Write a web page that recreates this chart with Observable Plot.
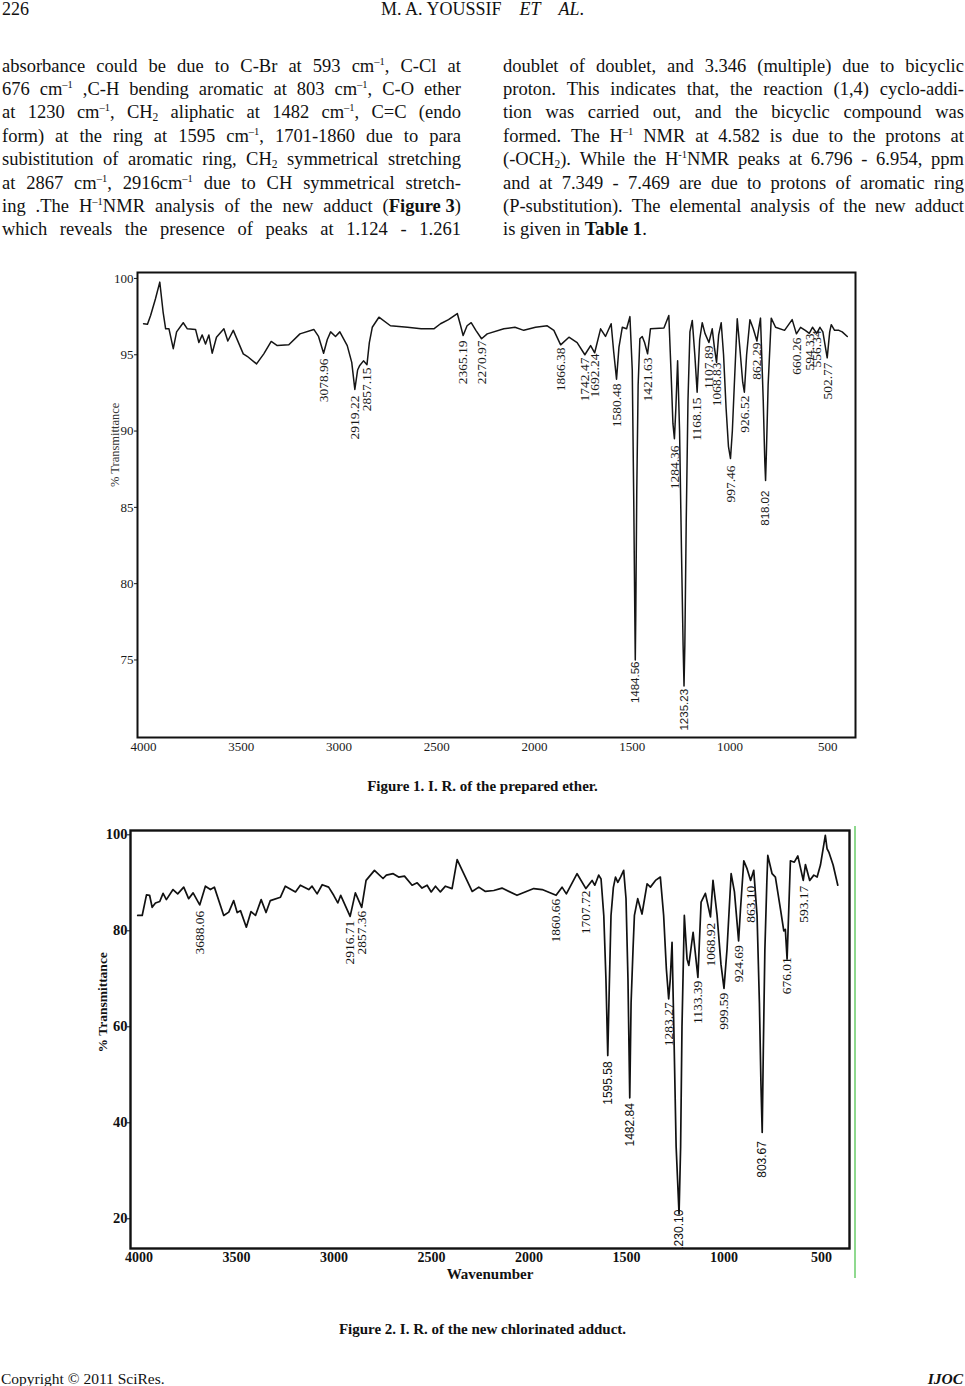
<!DOCTYPE html>
<html><head><meta charset="utf-8">
<script src="https://cdn.jsdelivr.net/npm/d3@7"></script>
<script src="https://cdn.jsdelivr.net/npm/@observablehq/plot@0.6"></script>
<style>
body{margin:0;background:#fff;}
#page{position:relative;width:965px;height:1386px;overflow:hidden;font-family:"Liberation Serif","Times New Roman",serif;color:#111;}
.abs{position:absolute;}
.line{position:absolute;height:23px;line-height:23px;font-size:18.5px;white-space:nowrap;}
.just{display:flex;justify-content:space-between;}
sup{font-size:10.5px;vertical-align:0;position:relative;top:-7px;}
sub{font-size:11.5px;vertical-align:0;position:relative;top:3px;}
.cap{position:absolute;left:0;width:965px;text-align:center;font-weight:bold;font-size:15px;}
svg{overflow:visible}
</style></head><body><div id="page"></div>
<script>
// ---------- data: Figure 1 (prepared ether) ----------
const fig1Wavenumber = [4000,3980,3964,3939,3917,3900,3887,3870,3848,3831,3797,3776,3734,3717,3700,3683,3666,3649,3627,3589,3569,3541,3490,3470,3422,3385,3347,3316,3257,3200,3129,3105,3078.96,3060,3043,3018,2996,2958,2935,2919.22,2905,2894,2875,2857.15,2845,2830,2796,2737,2650,2580,2515,2481,2440,2395,2380,2365.19,2345,2324,2300,2270.97,2242,2157,2100,2055,1995,1935,1901,1866.38,1824,1782,1742.47,1713,1692.24,1662,1637,1608,1595,1580.48,1568,1551,1529,1512,1500,1492,1487,1484.56,1482,1477,1470,1461,1449,1437,1421.63,1407,1338,1313,1302,1292,1284.36,1277,1268,1258,1248,1240,1235.23,1231,1224,1215,1205,1193,1180,1168.15,1155,1142,1128,1107.89,1091,1080,1068.83,1058,1045,1033,1020,1008,997.46,988,978,963,950,935,926.52,915,898,881,862.29,852,844,830,822,818.02,814,805,789,767,721,682,660.26,639,615,594.33,578,556.34,540,525,502.77,490,482,465,443,426,400];
const fig1Transmittance = [97.03,97.0,97.57,98.67,99.76,97.8,96.7,96.7,95.4,96.5,97.1,96.7,96.66,95.8,96.3,95.7,96.3,95.1,96.15,96.7,95.9,96.6,95.06,94.9,94.4,95.06,95.87,95.6,95.65,96.37,96.66,96.2,95.1,96.0,96.5,96.2,96.5,95.6,94.5,92.73,94.0,94.3,94.6,94.35,95.8,96.8,97.46,96.9,96.8,96.7,96.7,97.03,97.3,97.7,97.0,96.26,96.9,97.1,96.6,96.05,96.37,96.7,96.8,96.6,96.8,96.9,96.6,95.65,96.15,95.8,95.0,95.6,95.13,96.7,96.2,97.03,95.2,93.4,95.5,96.8,96.7,97.5,94,85,78,75.0,78,86,93,96.05,96.2,95.8,95.06,96.7,96.75,97.57,94,90.5,89.5,91.5,94.6,90,82,76,73.3,76,84,92,96.5,97.25,95,92.55,96,97.1,96.4,95.8,96.7,95.5,94.5,96.3,97.1,95,91.5,89,88.2,90,93,97.36,95.5,93.2,92.55,95,97.3,96.7,95.9,96.8,97.4,92,88,86.76,88.5,93,97.4,96.8,96.6,97.3,96.37,96.8,96.6,96.4,96.8,96.4,96.8,96.5,94.8,96.5,96.97,96.6,96.6,96.5,96.2];
const fig1PeakLabels = ["3078.96","2919.22","2857.15","2365.19","2270.97","1866.38","1742.47","1692.24","1580.48","1484.56","1421.63","1284.36","1235.23","1168.15","1107.89","1068.83","997.46","926.52","862.29","818.02","660.26","594.33","556.34","502.77"];
const fig1LabelTop = [94.76,92.33,94.17,95.94,95.94,95.48,94.82,95.08,93.12,74.9,94.82,89.06,73.1,92.2,95.6,94.5,87.75,92.33,95.8,86.1,96.13,96.4,96.6,94.5];
const fig1XTicks = [4000,3500,3000,2500,2000,1500,1000,500];
const fig1YTicks = [75,80,85,90,95,100];

// ---------- data: Figure 2 (new chlorinated adduct) ----------
const fig2Wavenumber = [4006,3983,3961,3945,3932,3915,3893,3876,3859,3825,3801,3770,3745,3722,3688.06,3659,3633,3613,3565,3539,3514,3496,3479,3449,3425,3402,3373,3348,3326,3274,3249,3197,3172,3129,3112,3086,3060,3027,3001,2980,2965,2916.71,2890,2857.36,2835,2792,2748,2731,2696,2668,2638,2599,2573,2548,2522,2501,2479,2454,2428,2394,2368,2342,2291,2257,2223,2180,2138,2061,1975,1932,1860.66,1830,1808,1753,1707.72,1676,1662,1642,1630,1616,1605,1595.58,1588,1579,1567,1556,1544,1530,1514,1502,1492,1482.84,1476,1466,1459,1442,1420,1394,1377,1351,1326,1309,1295,1283.27,1275,1266,1257,1245,1230.10,1222,1215,1203,1189,1180,1158,1133.39,1117,1095,1068.92,1056,1035,1015,999.59,984,963,946,924.69,915,898,881,863.10,847,830,818,810,803.67,798,790,780,775,753,736,710,693,685,676.01,659,639,621,593.17,582,560,539,522,505,480,471,462,440,416];
const fig2Transmittance = [83.2,83.2,87.5,87.4,84.9,85.8,86.1,87.8,86.5,88.6,87.7,89.1,86.7,87.9,85.4,89.3,88.6,89.1,83.2,83.9,86.3,83.8,84.2,80.75,84.0,83.2,86.5,83.8,86.3,87.0,89.3,88.1,89.5,88.6,89.3,87.7,89.6,89.1,87.4,85.8,87.4,83.0,87.9,84.9,90.5,92.6,90.9,91.6,91.9,91.2,91.4,89.5,90.0,88.9,89.5,88.1,89.3,88.1,89.3,88.8,94.85,92.6,88.2,89.1,88.2,88.4,88.9,87.4,88.8,88.6,87.4,89.1,87.7,91.9,88.8,90.5,89.5,91.6,90.8,83.2,70,54.0,68,83.2,89,91.2,90.1,91.2,92.6,86.7,70,45.2,65,76.2,83.2,86.7,83.5,89.8,89.1,90.5,91.2,83.2,72,65.8,70,77.6,60,35,21,35,60,83.2,74.1,72.8,79.7,70.3,86.0,87.8,82.9,90.5,83.2,73,68.0,76.2,91.9,88.1,77.9,84.5,94.6,92.9,90.5,92.6,83.2,65,48,38,55,76,90,95.7,91.9,91.2,84.5,80.0,80.3,74.1,94.6,94.3,95.6,90.5,93.8,90.5,91.6,91.2,93.7,99.9,97.1,96.4,93.7,89.5];
const fig2PeakLabels = ["3688.06","2916.71","2857.36","1860.66","1707.72","1595.58","1482.84","1283.27","1230.10","1133.39","1068.92","999.59","924.69","863.10","803.67","676.01","593.17"];
const fig2LabelTop = [84.2,82.1,84.2,86.7,88.4,52.8,44.1,65.1,21.9,69.6,81.7,67.1,77.0,89.4,36.2,74.5,89.4];
const fig2XTicks = [4000,3500,3000,2500,2000,1500,1000,500];
const fig2YTicks = [20,40,60,80,100];

// ---------- page text ----------
const leftLines = [
 "absorbance could be due to C-Br at 593 cm<sup>–1</sup>, C-Cl at",
 "676 cm<sup>–1</sup> ,C-H bending aromatic at 803 cm<sup>–1</sup>, C-O ether",
 "at 1230 cm<sup>–1</sup>, CH<sub>2</sub> aliphatic at 1482 cm<sup>–1</sup>, C=C (endo",
 "form) at the ring at 1595 cm<sup>–1</sup>, 1701-1860 due to para",
 "subistitution of aromatic ring, CH<sub>2</sub> symmetrical stretching",
 "at 2867 cm<sup>–1</sup>, 2916cm<sup>–1</sup> due to CH symmetrical stretch-",
 "ing .The H<sup>–1</sup>NMR analysis of the new adduct (<b>Figure&nbsp;3</b>)",
 "which reveals the presence of peaks at 1.124 - 1.261"
];
const rightLines = [
 "doublet of doublet, and 3.346 (multiple) due to bicyclic",
 "proton. This indicates that, the reaction (1,4) cyclo-addi-",
 "tion was carried out, and the bicyclic compound was",
 "formed. The H<sup>–1</sup> NMR at 4.582 is due to the protons at",
 "(-OCH<sub>2</sub>). While the H<sup>-1</sup>NMR peaks at 6.796 - 6.954, ppm",
 "and at 7.349 - 7.469 are due to protons of aromatic ring",
 "(P-substitution). The elemental analysis of the new adduct",
 "is given in <b>Table 1</b>."
];

const page = document.getElementById("page");
function add(html, css, cls){const d=document.createElement("div");d.className=cls||"abs";d.innerHTML=html;Object.assign(d.style,css);page.appendChild(d);return d;}

add("226",{left:"2px",top:"-2px",fontSize:"18px",lineHeight:"22px"});
add("M. A. YOUSSIF&nbsp;&nbsp;&nbsp;&nbsp;<i>ET&nbsp;&nbsp;&nbsp;&nbsp;AL</i>.",{left:"0px",width:"965px",textAlign:"center",top:"-2px",fontSize:"18px",lineHeight:"22px"});

function addColumn(lines, left, width, lastJustified){
  lines.forEach((ln,i)=>{
    const top = 66 + 23.4*i - 11.5;
    const justify = i < lines.length-1 || lastJustified;
    const d = document.createElement("div");
    d.className = "line" + (justify ? " just" : "");
    d.style.left = left+"px"; d.style.top = top+"px"; d.style.width = width+"px";
    if (justify) ln.split(" ").forEach(w=>{const s=document.createElement("span");s.innerHTML=w;d.appendChild(s);});
    else d.innerHTML = ln;
    page.appendChild(d);
  });
}
addColumn(leftLines, 2, 459, true);
addColumn(rightLines, 503, 461, false);

const serif = "Liberation Serif";
const sansSet = new Set(["1484.56","1235.23","818.02","1595.58","1482.84","803.67","1230.10"]);

// ---------- Figure 1 ----------
const f1 = fig1Wavenumber.map((w,i)=>({w, t: fig1Transmittance[i]}));
const l1 = fig1PeakLabels.map((s,i)=>({s, w:+s, t: fig1LabelTop[i]}));
const plot1 = Plot.plot({
  width: 965, height: 500,
  marginTop: 10, marginBottom: 25, marginLeft: 137, marginRight: 110,
  style: {fontFamily: serif, color: "#1a1a1a", background: "transparent"},
  x: {domain: [4031, 358]},
  y: {domain: [69.92, 100.39]},
  marks: [
    Plot.axisX({ticks: fig1XTicks, tickFormat: d => String(d), tickSize: 0, tickPadding: 4, fontSize: 13, label: null}),
    Plot.axisY({ticks: fig1YTicks, tickFormat: d => String(d), tickSize: 3, tickPadding: 1, fontSize: 13, label: null}),
    Plot.line(f1, {x: "w", y: "t", stroke: "#151515", strokeWidth: 1.5}),
    Plot.text(l1.filter(d=>!sansSet.has(d.s)), {x: "w", y: "t", text: "s", rotate: -90, textAnchor: "end", fontSize: 13.5, fill: "#1a1a1a"}),
    Plot.text(l1.filter(d=>sansSet.has(d.s)), {x: "w", y: "t", text: "s", rotate: -90, textAnchor: "end", fontSize: 11.5, fontFamily: "Liberation Sans", fill: "#1a1a1a"}),
    Plot.text(["% Transmittance"], {frameAnchor: "left", dx: -23, dy: -18, rotate: -90, fontSize: 12.5, fill: "#333"}),
    Plot.frame({stroke: "#111", strokeWidth: 2})
  ]
});
plot1.style.position = "absolute"; plot1.style.left = "0px"; plot1.style.top = "262px";
page.appendChild(plot1);

add("Figure 1. I. R. of the prepared ether.", {top: "778px"}, "cap");

// ---------- Figure 2 ----------
const f2 = fig2Wavenumber.map((w,i)=>({w, t: fig2Transmittance[i]}));
const l2 = fig2PeakLabels.map((s,i)=>({s, w:+s, t: fig2LabelTop[i]}));
const plot2 = Plot.plot({
  width: 965, height: 470,
  marginTop: 10, marginBottom: 42, marginLeft: 130, marginRight: 116,
  style: {fontFamily: serif, color: "#111", background: "transparent"},
  x: {domain: [4043, 356]},
  y: {domain: [13.81, 100.9]},
  marks: [
    Plot.axisX({ticks: fig2XTicks, tickFormat: d => String(d), tickSize: 0, tickPadding: 4, fontSize: 14, fontWeight: "bold", label: null}),
    Plot.axisY({ticks: fig2YTicks, tickFormat: d => String(d), tickSize: 3, tickPadding: 0, fontSize: 14.5, fontWeight: "bold", label: null}),
    Plot.line(f2, {x: "w", y: "t", stroke: "#111", strokeWidth: 1.7}),
    Plot.text(l2.filter(d=>!sansSet.has(d.s)), {x: "w", y: "t", text: "s", rotate: -90, textAnchor: "end", fontSize: 13.5, fill: "#111", clip: true}),
    Plot.text(l2.filter(d=>sansSet.has(d.s)), {x: "w", y: "t", text: "s", rotate: -90, textAnchor: "end", fontSize: 12, fontFamily: "Liberation Sans", fill: "#111", clip: true}),
    Plot.text(["% Transmittance"], {frameAnchor: "left", dx: -28, dy: 13, rotate: -90, fontSize: 13.5, fontWeight: "bold", fill: "#111"}),
    Plot.text(["Wavenumber"], {frameAnchor: "bottom", dy: 30, fontSize: 15, fontWeight: "bold", fill: "#111"}),
    Plot.frame({stroke: "#111", strokeWidth: 2.4})
  ]
});
plot2.style.position = "absolute"; plot2.style.left = "0px"; plot2.style.top = "820px";
page.appendChild(plot2);

add("", {left: "854px", top: "826px", width: "1.5px", height: "452px", background: "#8fd98f"});

add("Figure 2. I. R. of the new chlorinated adduct.", {top: "1321px"}, "cap");

add("Copyright © 2011 SciRes.", {left: "1px", top: "1369px", fontSize: "15.5px", lineHeight: "20px"});
add("<b><i>IJOC</i></b>", {right: "2px", top: "1369px", fontSize: "15.5px", lineHeight: "20px"});
</script>
</body></html>
